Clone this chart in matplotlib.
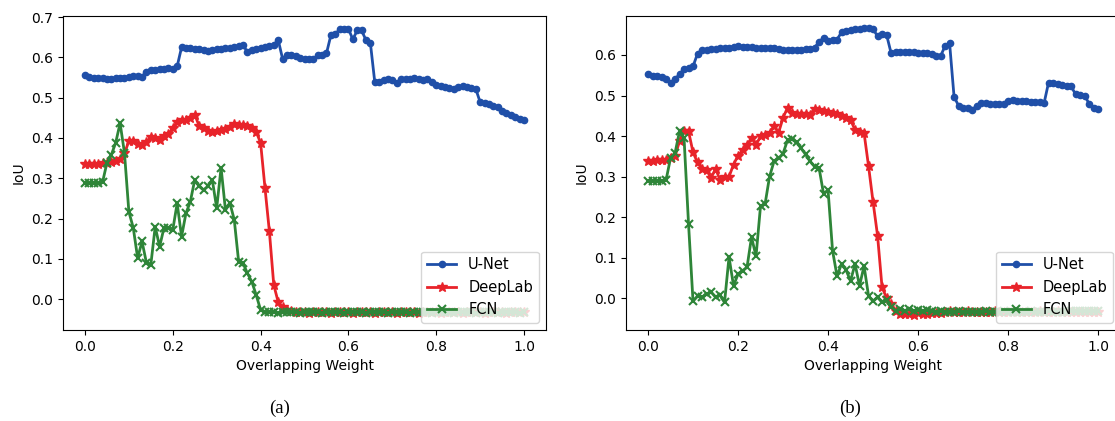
import numpy as np
import matplotlib
matplotlib.use("Agg")
import matplotlib.pyplot as plt

weights = np.round(np.arange(0, 101) * 0.01, 2)

flat = [-0.033, -0.032, -0.033, -0.034, -0.033, -0.032, -0.033, -0.033, -0.034, -0.033]

unet_a = [0.557, 0.551, 0.550, 0.549, 0.548, 0.547, 0.546, 0.548, 0.549, 0.550,
          0.552, 0.553, 0.554, 0.552, 0.565, 0.568, 0.570, 0.571, 0.572, 0.573,
          0.572, 0.578, 0.625, 0.624, 0.623, 0.621, 0.620, 0.618, 0.616, 0.619,
          0.621, 0.622, 0.623, 0.624, 0.626, 0.628, 0.630, 0.614, 0.619, 0.621,
          0.624, 0.626, 0.628, 0.631, 0.644, 0.597, 0.605, 0.605, 0.603, 0.598,
          0.597, 0.596, 0.596, 0.605, 0.607, 0.610, 0.655, 0.658, 0.670, 0.671,
          0.671, 0.645, 0.667, 0.667, 0.643, 0.636, 0.539, 0.539, 0.545, 0.546,
          0.545, 0.536, 0.546, 0.547, 0.547, 0.548, 0.547, 0.545, 0.546, 0.540,
          0.532, 0.530, 0.527, 0.525, 0.522, 0.527, 0.528, 0.527, 0.525, 0.522,
          0.489, 0.488, 0.485, 0.480, 0.476, 0.468, 0.463, 0.458, 0.453, 0.448,
          0.444]

deeplab_a = [0.336, 0.336, 0.336, 0.336, 0.337, 0.338, 0.340, 0.343, 0.348, 0.362,
             0.392, 0.393, 0.385, 0.383, 0.390, 0.403, 0.400, 0.395, 0.405, 0.410,
             0.425, 0.440, 0.445, 0.445, 0.450, 0.458, 0.430, 0.425, 0.418, 0.415,
             0.418, 0.420, 0.422, 0.428, 0.435, 0.433, 0.432, 0.430, 0.425, 0.415,
             0.388, 0.276, 0.168, 0.035, -0.007, -0.020, -0.027, -0.030] + flat * 5 + [-0.033, -0.033, -0.033]

fcn_a = [0.288, 0.288, 0.288, 0.288, 0.290, 0.338, 0.358, 0.388, 0.437, 0.363,
         0.217, 0.177, 0.102, 0.143, 0.090, 0.085, 0.180, 0.130, 0.177, 0.177,
         0.172, 0.238, 0.155, 0.213, 0.242, 0.296, 0.280, 0.271, 0.280, 0.296,
         0.226, 0.326, 0.221, 0.239, 0.197, 0.093, 0.089, 0.064, 0.043, 0.010,
         -0.027] + flat * 6

unet_b = [0.553, 0.548, 0.547, 0.545, 0.540, 0.530, 0.540, 0.553, 0.565, 0.568,
          0.572, 0.603, 0.612, 0.613, 0.614, 0.615, 0.616, 0.617, 0.618, 0.620,
          0.621, 0.620, 0.619, 0.619, 0.618, 0.618, 0.617, 0.617, 0.616, 0.614,
          0.611, 0.612, 0.612, 0.613, 0.613, 0.614, 0.615, 0.618, 0.632, 0.642,
          0.635, 0.636, 0.638, 0.656, 0.660, 0.662, 0.664, 0.665, 0.667, 0.666,
          0.664, 0.646, 0.651, 0.650, 0.605, 0.607, 0.608, 0.608, 0.607, 0.607,
          0.606, 0.605, 0.604, 0.603, 0.598, 0.597, 0.622, 0.630, 0.497, 0.475,
          0.470, 0.469, 0.464, 0.475, 0.481, 0.481, 0.480, 0.479, 0.478, 0.478,
          0.487, 0.488, 0.487, 0.486, 0.486, 0.485, 0.484, 0.483, 0.481, 0.532,
          0.531, 0.528, 0.526, 0.524, 0.523, 0.503, 0.502, 0.500, 0.480, 0.470,
          0.468]

deeplab_b = [0.339, 0.339, 0.340, 0.340, 0.341, 0.345, 0.350, 0.388, 0.413, 0.412,
             0.360, 0.335, 0.318, 0.317, 0.296, 0.320, 0.292, 0.298, 0.300, 0.330,
             0.352, 0.365, 0.378, 0.396, 0.378, 0.400, 0.403, 0.408, 0.425, 0.408,
             0.445, 0.470, 0.458, 0.455, 0.455, 0.455, 0.453, 0.468, 0.465, 0.462,
             0.460, 0.458, 0.455, 0.450, 0.445, 0.440, 0.415, 0.410, 0.408, 0.326,
             0.238, 0.155, 0.027, 0.002, -0.015, -0.030, -0.038, -0.039, -0.038, -0.040,
             -0.037, -0.039, -0.038, -0.037, -0.036, -0.035] + flat * 3 + [-0.033, -0.034, -0.033, -0.033, -0.033]

fcn_b = [0.289, 0.289, 0.289, 0.290, 0.291, 0.346, 0.358, 0.412, 0.396, 0.184,
         -0.007, 0.006, 0.003, 0.010, 0.016, 0.003, 0.008, -0.010, 0.102, 0.031,
         0.060, 0.068, 0.077, 0.151, 0.104, 0.228, 0.232, 0.300, 0.338, 0.345,
         0.357, 0.390, 0.392, 0.385, 0.370, 0.355, 0.338, 0.325, 0.322, 0.258,
         0.267, 0.118, 0.055, 0.085, 0.070, 0.043, 0.085, 0.031, 0.080, 0.006,
         -0.007, 0.003, -0.010, -0.005, -0.020, -0.030, -0.025, -0.030, -0.027, -0.030,
         -0.028, -0.031, -0.029, -0.031] + flat * 3 + [-0.031, -0.032, -0.031, -0.032, -0.031, -0.031, -0.032]

labels = ["U-Net", "DeepLab", "FCN"]
colors = ["#1f4fa8", "#e8232a", "#2e8538"]

plt.rcParams["font.size"] = 10

fig = plt.figure(figsize=(11.15, 4.21), dpi=100)
ax_a = fig.add_axes([0.0565, 0.216, 0.4332, 0.747])
ax_b = fig.add_axes([0.561, 0.216, 0.444, 0.747])


def draw(ax, unet, deeplab, fcn, ylim):
    ax.plot(weights, unet, color=colors[0], marker="o", ms=4.5, lw=2, label=labels[0])
    ax.plot(weights, deeplab, color=colors[1], marker="*", ms=7, lw=2, label=labels[1])
    ax.plot(weights, fcn, color=colors[2], marker="x", ms=6, mew=1.5, lw=2, label=labels[2])
    ax.set_xlim(-0.05, 1.05)
    ax.set_ylim(*ylim)
    ax.set_xticks([0.0, 0.2, 0.4, 0.6, 0.8, 1.0])
    ax.set_xlabel("Overlapping Weight")
    ax.set_ylabel("IoU")
    ax.legend(loc="lower right", fontsize=10.5)


draw(ax_a, unet_a, deeplab_a, fcn_a, (-0.077, 0.704))
draw(ax_b, unet_b, deeplab_b, fcn_b, (-0.078, 0.697))

fig.text(280 / 1115, 0.02, "(a)", family="Liberation Serif", fontsize=13.5, ha="center")
fig.text(850 / 1115, 0.02, "(b)", family="Liberation Serif", fontsize=13.5, ha="center")

fig.savefig("out.png", dpi=100)
